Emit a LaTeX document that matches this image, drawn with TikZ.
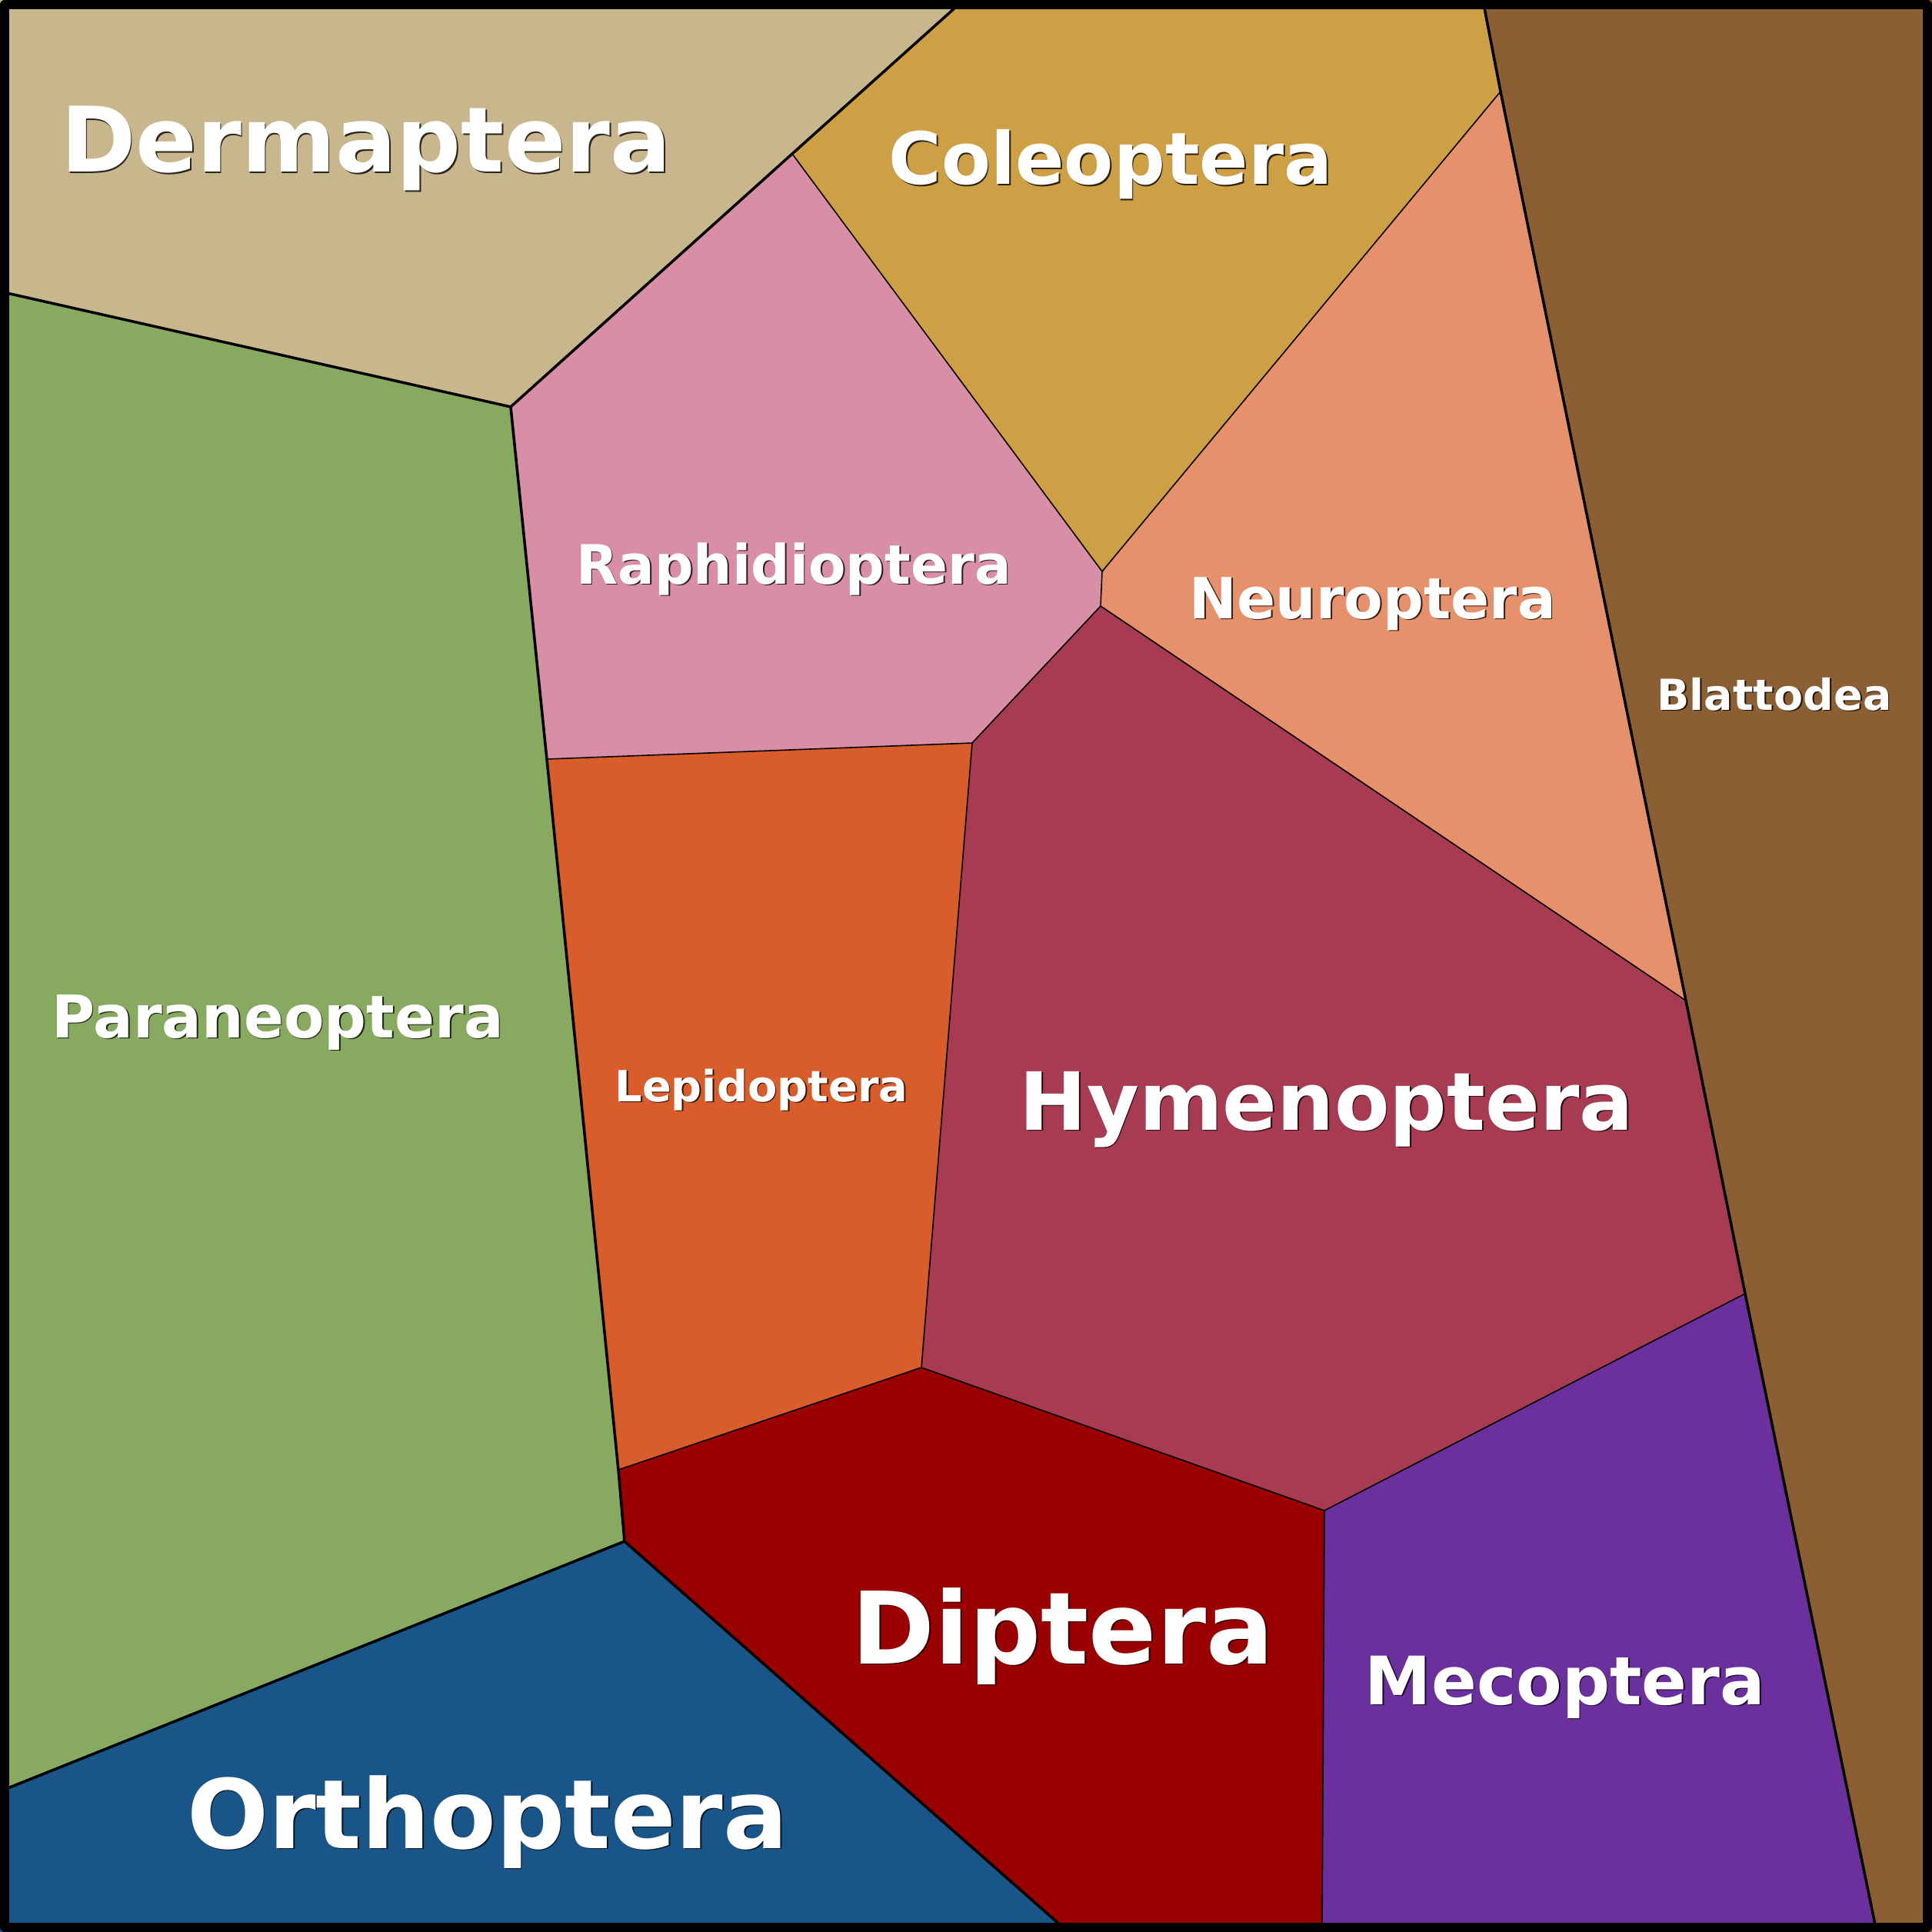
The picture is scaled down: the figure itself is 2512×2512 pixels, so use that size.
\documentclass[tikz,border=0pt]{standalone}
\usepackage{fontspec}
\setmainfont{DejaVu Sans}
\definecolor{cDerm}{RGB}{200,182,140}
\definecolor{cCole}{RGB}{205,160,70}
\definecolor{cBlat}{RGB}{139,94,51}
\definecolor{cRaph}{RGB}{216,143,166}
\definecolor{cNeur}{RGB}{230,144,108}
\definecolor{cPara}{RGB}{136,170,96}
\definecolor{cLepi}{RGB}{217,93,42}
\definecolor{cHyme}{RGB}{166,59,82}
\definecolor{cDipt}{RGB}{154,0,0}
\definecolor{cMeco}{RGB}{108,48,158}
\definecolor{cOrth}{RGB}{25,85,136}
\tikzset{
  thickedge/.style={draw=black,line width=1.0pt,line join=round},
  thinedge/.style={draw=black,line width=0.45pt,line join=round},
  lbltext/.style={inner sep=0pt,anchor=base,text=white},
  lblshadow/.style={inner sep=0pt,anchor=base,text=black,text opacity=0.8,xshift=0.5pt,yshift=-0.5pt},
}
\newcommand{\regionlabel}[4]{%
  \node[lblshadow] (#1s) at (#2) {\bfseries\fontsize{#3}{#3}\selectfont #4};
  \node[lbltext] (#1) at (#2) {\bfseries\fontsize{#3}{#3}\selectfont #4};
}
\begin{document}
\begin{tikzpicture}[x=0.01cm,y=-0.01cm]
\useasboundingbox (0,0) rectangle (2512,2512);
% vertices
\coordinate (TL) at (0,0);
\coordinate (TR) at (2512,0);
\coordinate (BR) at (2512,2512);
\coordinate (BL) at (0,2512);
\coordinate (T1) at (1253,0);
\coordinate (T2) at (1928,0);
\coordinate (L1) at (0,379);
\coordinate (L2) at (0,2329);
\coordinate (B1) at (1389,2512);
\coordinate (B2) at (1719,2512);
\coordinate (B3) at (2440,2512);
\coordinate (A) at (1030,200);
\coordinate (B) at (664,529);
\coordinate (C) at (1951,119);
\coordinate (D) at (1433,743);
\coordinate (E) at (1431,788);
\coordinate (F) at (1264,966);
\coordinate (G) at (711,987);
\coordinate (H) at (2192,1301);
\coordinate (I) at (2269,1682);
\coordinate (J) at (1198,1778);
\coordinate (K) at (804,1911);
\coordinate (L) at (812,2004);
\coordinate (M) at (1722,1964);
% fills
\fill[cDerm] (TL) -- (T1) -- (A) -- (B) -- (L1) -- cycle;
\fill[cCole] (T1) -- (T2) -- (C) -- (D) -- (A) -- cycle;
\fill[cBlat] (T2) -- (TR) -- (BR) -- (B3) -- (I) -- (H) -- (C) -- cycle;
\fill[cNeur] (C) -- (H) -- (E) -- (D) -- cycle;
\fill[cRaph] (A) -- (D) -- (E) -- (F) -- (G) -- (B) -- cycle;
\fill[cPara] (L1) -- (B) -- (G) -- (K) -- (L) -- (L2) -- cycle;
\fill[cLepi] (G) -- (F) -- (J) -- (K) -- cycle;
\fill[cHyme] (E) -- (H) -- (I) -- (M) -- (J) -- (F) -- cycle;
\fill[cDipt] (K) -- (J) -- (M) -- (B2) -- (B1) -- (L) -- cycle;
\fill[cMeco] (M) -- (I) -- (B3) -- (B2) -- cycle;
\fill[cOrth] (L2) -- (L) -- (B1) -- (BL) -- cycle;
% edges
\draw[thinedge] (A) -- (D) -- (C);
\draw[thinedge] (D) -- (E) -- (H);
\draw[thinedge] (E) -- (F) -- (G);
\draw[thinedge] (F) -- (J) -- (M) -- (I);
\draw[thinedge] (M) -- (B2);
\draw[thinedge] (K) -- (J);
\draw[thickedge] (T1) -- (A) -- (B) -- (L1);
\draw[thickedge] (B) -- (G) -- (K) -- (L) -- (L2);
\draw[thickedge] (L) -- (B1);
\draw[thickedge] (T2) -- (C) -- (H) -- (I) -- (B3);
% labels
\regionlabel{dermaptera}{476,224}{33.4}{Dermaptera}
\regionlabel{coleoptera}{1444,240}{26.6}{Coleoptera}
\regionlabel{raphidioptera}{1032,759}{20.1}{Raphidioptera}
\regionlabel{neuroptera}{1785,804}{21.0}{Neuroptera}
\regionlabel{blattodea}{2307,923}{15.8}{Blattodea}
\regionlabel{paraneoptera}{361,1349}{21.8}{Paraneoptera}
\regionlabel{lepidoptera}{990,1432}{15.9}{Lepidoptera}
\regionlabel{hymenoptera}{1725,1469}{29.7}{Hymenoptera}
\regionlabel{diptera}{1382,2163}{37.0}{Diptera}
\regionlabel{mecoptera}{2035,2216}{24.7}{Mecoptera}
\regionlabel{orthoptera}{634,2403}{35.5}{Orthoptera}
% frame
\draw[line width=3.4pt,line join=round] (6,6) rectangle (2506,2506);
\end{tikzpicture}
\end{document}
